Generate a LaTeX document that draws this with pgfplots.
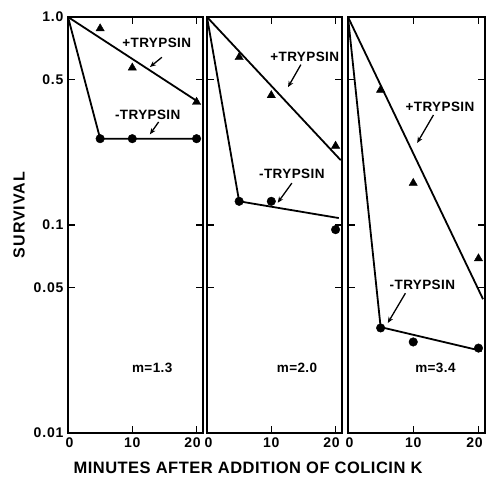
\documentclass[border=0pt]{standalone}
\usepackage{fontspec}
\setmainfont{Liberation Sans}
\newfontfamily\lbl[LetterSpace=3]{Liberation Sans}
\newfontfamily\tlbl[LetterSpace=6]{Liberation Sans}
\usepackage{pgfplots}
\pgfplotsset{compat=1.18}
\usetikzlibrary{arrows.meta}

\pgfplotsset{every axis/.append style={
  scale only axis, height=416pt,
  ymin=0.01, ymax=1, xmin=0, xmax=21,
  xtick={0,10,20}, ytick={0.01,0.05,0.1,0.5,1},
  yminorticks=false, xminorticks=false,
  tick align=inside, major tick length=7pt,
  every outer x axis line/.append style={line width=1.8pt},
  every outer y axis line/.append style={line width=1.8pt},
  axis line style={line width=1.8pt},
  every tick/.style={line width=1.4pt,black},
  xticklabel style={font=\tlbl\bfseries\fontsize{14}{14}\selectfont, yshift=-1pt},
  yticklabel style={font=\tlbl\bfseries\fontsize{14}{14}\selectfont, xshift=-1pt},
  /pgf/number format/assume math mode=true,
  clip=false, anchor=south west,
  xticklabels={\hspace*{3pt}0,10,20\hspace*{8pt}},
  xtick pos=both, ytick pos=both,
  xticklabel pos=lower,
}}
\tikzset{
myline/.style={black, line width=1.8pt},
mytri/.style={draw=none, mark=triangle*, mark size=4.8pt, mark options={black, fill=black}},
mydot/.style={draw=none, mark=*, mark size=4.3pt, mark options={black, fill=black}},
myarr/.style={-{Stealth[length=6pt,width=5pt]}, line width=1.3pt},
myann/.style={font=\lbl\bfseries\fontsize{13.5}{13.5}\selectfont},
}

\begin{document}
\begin{tikzpicture}[x=1pt,y=1pt]
\path[use as bounding box] (-68pt,-44pt) rectangle (419pt,433pt);

% Panel 1
\begin{semilogyaxis}[at={(0pt,0pt)}, width=135pt,
  yticklabels={0.01,0.05,0.1,0.5,1.0}, yticklabel pos=left]
\addplot[myline] coordinates {(0,1) (20.3,0.39)};
\addplot[mytri, only marks] coordinates {(5,0.88) (10,0.57) (20,0.39)};
\addplot[myline] coordinates {(0,1) (5,0.26) (20,0.26)};
\addplot[mydot, only marks] coordinates {(5,0.26) (10,0.26) (20,0.26)};
\node[myann] at (axis cs:13.8,0.75) {+TRYPSIN};
\draw[myarr] (axis cs:14.6,0.64) -- (axis cs:12.75,0.575);
\node[myann] at (axis cs:12.4,0.338) {-TRYPSIN};
\draw[myarr] (axis cs:14.1,0.313) -- (axis cs:12.75,0.273);
\node[myann] at (axis cs:13.1,0.0205) {m=1.3};
\end{semilogyaxis}

% Panel 2
\begin{semilogyaxis}[at={(139pt,0pt)}, width=135pt, yticklabels={}]
\addplot[myline] coordinates {(0,1) (20.8,0.205)};
\addplot[mytri, only marks] coordinates {(5,0.64) (10,0.42) (20,0.24)};
\addplot[myline] coordinates {(0,1) (5,0.13) (20.5,0.108)};
\addplot[mydot, only marks] coordinates {(5,0.13) (10,0.13) (20,0.095)};
\node[myann] at (axis cs:15.2,0.64) {+TRYPSIN};
\draw[myarr] (axis cs:14.6,0.59) -- (axis cs:12.6,0.46);
\node[myann] at (axis cs:13.2,0.176) {-TRYPSIN};
\draw[myarr] (axis cs:13.2,0.159) -- (axis cs:11.0,0.128);
\node[myann] at (axis cs:14,0.0205) {m=2.0};
\end{semilogyaxis}

% Panel 3
\begin{semilogyaxis}[at={(280pt,0pt)}, width=137pt, yticklabels={}]
\addplot[myline] coordinates {(0,1) (20.7,0.044)};
\addplot[mytri, only marks] coordinates {(5,0.446) (10,0.159) (20,0.069)};
\addplot[myline] coordinates {(0,1) (5,0.0323) (20.5,0.0248)};
\addplot[mydot, only marks] coordinates {(5,0.032) (10,0.0274) (20,0.0256)};
\node[myann] at (axis cs:14.1,0.369) {+TRYPSIN};
\draw[myarr] (axis cs:13.1,0.338) -- (axis cs:10.6,0.248);
\node[myann] at (axis cs:11.4,0.0515) {-TRYPSIN};
\draw[myarr] (axis cs:8.8,0.047) -- (axis cs:6.1,0.0338);
\node[myann] at (axis cs:13.4,0.0205) {m=3.4};
\end{semilogyaxis}

\node[rotate=90, font=\tlbl\bfseries\fontsize{16}{16}\selectfont] at (-49pt,218pt) {SURVIVAL};
\node[font=\lbl\bfseries\fontsize{16.5}{16.5}\selectfont] at (180pt,-35pt) {MINUTES AFTER ADDITION OF COLICIN K};
\end{tikzpicture}
\end{document}
